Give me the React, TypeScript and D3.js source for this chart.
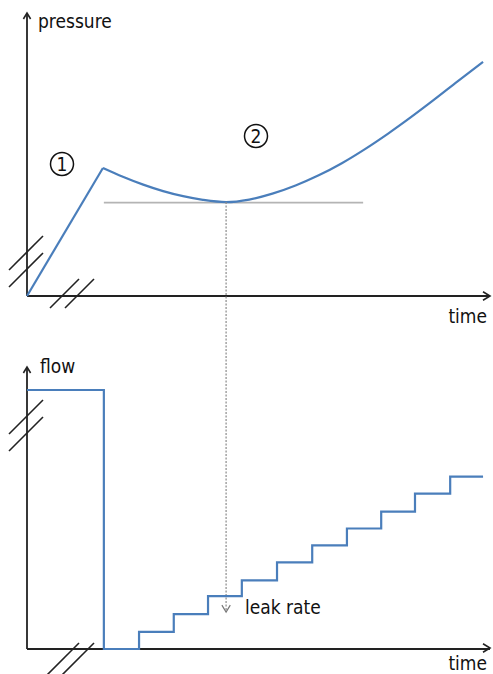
import * as d3 from "d3";

// time in arbitrary units (0..100), pressure / flow in arbitrary units (0..100)
const riseTimes = [0, 16.4];
const risePressure = [0, 45.4];

const decayTimes = [16.4, 20.7, 25.1, 29.4, 33.7, 38.0, 43.0, 48, 53, 58, 63, 68, 73, 78, 83, 88, 93, 98.5];
const decayPressure = [45.4, 42.3, 39.5, 37.2, 35.4, 34.1, 33.3, 34.2, 36.3, 39.2, 42.8, 47.1, 52.1, 57.6, 63.5, 69.7, 76.1, 83.0];

const minTime = 43.0;
const minPressure = 33.3;
const refLineTimes = [16.6, 72.6];

const flowTimes = [0, 16.6, 24.2, 31.7, 39.1, 46.4, 54.0, 61.6, 69.1, 76.5, 83.8, 91.4, 98.5];
const flowValues = [93.5, 0, 6.2, 12.6, 19.1, 24.8, 31.3, 37.4, 43.5, 49.6, 56.1, 62.2, 62.2];
const leakStep = 3; // the step the dotted arrow points to

const labels = { pressure: "pressure", flow: "flow", time: "time", leak: "leak rate" };

const W = 493;
const H = 674;
const BLUE = "#4a7ebb";
const AXIS = "#222";
const FONT = "'DejaVu Sans Condensed', 'DejaVu Sans', sans-serif";

const x = d3.scaleLinear().domain([0, 100]).range([27, 490]);
const yP = d3.scaleLinear().domain([0, 100]).range([296, 14]);
const yF = d3.scaleLinear().domain([0, 100]).range([649, 372]);

type Pt = [number, number];

function arrowUp(cx: number, cy: number, s = 6) {
  return `M${cx - s * 0.6},${cy + s}L${cx},${cy}L${cx + s * 0.6},${cy + s}`;
}
function arrowRight(cx: number, cy: number, s = 7) {
  return `M${cx - s},${cy - s * 0.6}L${cx},${cy}L${cx - s},${cy + s * 0.6}`;
}
function arrowDown(cx: number, cy: number, s = 7) {
  return `M${cx - s * 0.6},${cy - s}L${cx},${cy}L${cx + s * 0.6},${cy - s}`;
}

// pair of parallel slanted break marks
function Breaks({ x0, y0, dx, dy, len }: { x0: number; y0: number; dx: number; dy: number; len: number }) {
  return (
    <g stroke={AXIS} strokeWidth={1.6}>
      <line x1={x0} y1={y0} x2={x0 + len} y2={y0 - len} />
      <line x1={x0 + dx} y1={y0 + dy} x2={x0 + dx + len} y2={y0 + dy - len} />
    </g>
  );
}

function Circled({ cx, cy, n }: { cx: number; cy: number; n: string }) {
  return (
    <g>
      <circle cx={cx} cy={cy} r={11.5} fill="none" stroke="#111" strokeWidth={1.5} />
      <text x={cx} y={cy + 7} textAnchor="middle" fontSize={19} fontFamily={FONT} fill="#111">{n}</text>
    </g>
  );
}

export default function App() {
  const rise: Pt[] = riseTimes.map((t, i) => [t, risePressure[i]]);
  const decay: Pt[] = decayTimes.map((t, i) => [t, decayPressure[i]]);
  const flow: Pt[] = flowTimes.map((t, i) => [t, flowValues[i]]);

  const riseLine = d3.line<Pt>().x(d => x(d[0])).y(d => yP(d[1]));
  const decayLine = d3.line<Pt>().x(d => x(d[0])).y(d => yP(d[1])).curve(d3.curveMonotoneX);
  const flowLine = d3.line<Pt>().x(d => x(d[0])).y(d => yF(d[1])).curve(d3.curveStepAfter);

  const x0 = x(0);
  const xEnd = x(100);
  const dotX = x(minTime);
  const dotY1 = yP(minPressure);
  const dotY2 = yF(flowValues[leakStep]) - 2;

  return (
    <svg width={W} height={H} style={{ position: "absolute", left: 0, top: 0, background: "#fff" }}>
      {/* top panel: pressure */}
      <line x1={x0} y1={yP(0)} x2={x0} y2={yP(100)} stroke={AXIS} strokeWidth={1.8} />
      <path d={arrowUp(x0, yP(100) - 1)} fill="none" stroke={AXIS} strokeWidth={1.6} />
      <line x1={x0} y1={yP(0)} x2={xEnd} y2={yP(0)} stroke={AXIS} strokeWidth={1.8} />
      <path d={arrowRight(xEnd, yP(0))} fill="none" stroke={AXIS} strokeWidth={1.6} />
      <text x={38} y={28} fontSize={19} fontFamily={FONT} fill="#111">{labels.pressure}</text>
      <text x={487} y={323} textAnchor="end" fontSize={19} fontFamily={FONT} fill="#111">{labels.time}</text>

      <line x1={x(refLineTimes[0])} x2={x(refLineTimes[1])} y1={yP(minPressure) + 0.5} y2={yP(minPressure) + 0.5} stroke="#b4b4b4" strokeWidth={1.6} />
      <path d={riseLine(rise) ?? ""} fill="none" stroke={BLUE} strokeWidth={2.2} />
      <path d={decayLine(decay) ?? ""} fill="none" stroke={BLUE} strokeWidth={2.2} />

      <Breaks x0={9} y0={270} dx={0} dy={17} len={34} />
      <Breaks x0={50} y0={308} dx={15} dy={0} len={29} />

      <Circled cx={62} cy={164} n="1" />
      <Circled cx={256} cy={136} n="2" />

      {/* connection between panels */}
      <line x1={dotX} y1={dotY1} x2={dotX} y2={dotY2} stroke="#8a8a8a" strokeWidth={1.2} strokeDasharray="2,1.5" />
      <path d={arrowDown(dotX, dotY2)} fill="none" stroke="#777" strokeWidth={1.2} />

      {/* bottom panel: flow */}
      <line x1={x0} y1={yF(0)} x2={x0} y2={yF(100) - 4} stroke={AXIS} strokeWidth={1.8} />
      <path d={arrowUp(x0, yF(100) - 5)} fill="none" stroke={AXIS} strokeWidth={1.6} />
      <line x1={x0} y1={yF(0)} x2={xEnd} y2={yF(0)} stroke={AXIS} strokeWidth={1.8} />
      <path d={arrowRight(xEnd, yF(0) - 1)} fill="none" stroke={AXIS} strokeWidth={1.6} />
      <text x={40} y={373} fontSize={19} fontFamily={FONT} fill="#111">{labels.flow}</text>
      <text x={487} y={670} textAnchor="end" fontSize={19} fontFamily={FONT} fill="#111">{labels.time}</text>

      <path d={flowLine(flow) ?? ""} fill="none" stroke={BLUE} strokeWidth={2.2} />
      <text x={245} y={614} fontSize={19} fontFamily={FONT} fill="#111">{labels.leak}</text>

      <Breaks x0={9} y0={434} dx={0} dy={17} len={34} />
      <Breaks x0={47} y0={675} dx={15} dy={0} len={32} />
    </svg>
  );
}
